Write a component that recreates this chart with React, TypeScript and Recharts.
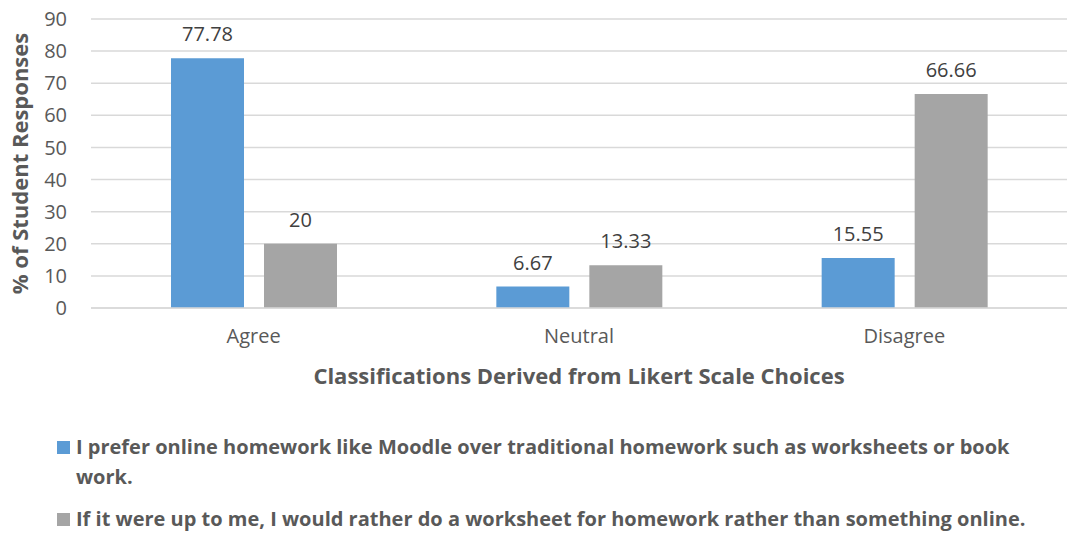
import { BarChart, Bar, XAxis, YAxis, CartesianGrid, Legend, LabelList } from "recharts";

const categories = ["Agree", "Neutral", "Disagree"];
const preferOnline = [77.78, 6.67, 15.55];
const preferWorksheet = [20, 13.33, 66.66];
const yTicks = [0, 10, 20, 30, 40, 50, 60, 70, 80, 90];
const seriesNames = [
  "I prefer online homework like Moodle over traditional homework such as worksheets or book work.",
  "If it were up to me, I would rather do a worksheet for homework rather than something online.",
];

const data = categories.map((c, i) => ({
  name: c,
  online: preferOnline[i],
  worksheet: preferWorksheet[i],
}));

const FONT = "'Open Sans', sans-serif";
const TEXT = "#595959";

function LegendBox({ payload }: any) {
  return (
    <div
      style={{
        height: 135,
        paddingTop: 32,
        boxSizing: "border-box",
        display: "flex",
        flexDirection: "column",
        gap: 12,
        fontFamily: FONT,
        fontWeight: 700,
        fontSize: 20,
        color: TEXT,
        width: 1005,
        textAlign: "left",
      }}
    >
      {(payload || []).map((p: any) => (
        <div key={p.value} style={{ display: "flex", alignItems: "flex-start", lineHeight: "30px" }}>
          <span style={{ display: "inline-block", width: 13, height: 13, background: p.color, marginTop: 9, marginRight: 6, flex: "none" }} />
          <span style={{ maxWidth: 962 }}>{p.value}</span>
        </div>
      ))}
    </div>
  );
}

export default function App() {
  return (
    <div style={{ position: "absolute", left: 0, top: 0, width: 1067, height: 535, background: "#fff" }}>
      <BarChart
        width={1067}
        height={535}
        data={data}
        margin={{ top: 19, right: 0, left: 0, bottom: 0 }}
        barCategoryGap={79}
        barGap={20}
      >
        <CartesianGrid vertical={false} stroke="#D9D9D9" strokeWidth={1.5} />
        <XAxis
          dataKey="name"
          axisLine={{ stroke: "#D9D9D9", strokeWidth: 1.5 }}
          tickLine={false}
          tick={{ fontFamily: FONT, fontSize: 20, fill: TEXT }}
          tickMargin={15}
          height={92}
          label={{
            value: "Classifications Derived from Likert Scale Choices",
            position: "insideBottom",
            offset: 16,
            style: { fontFamily: FONT, fontSize: 22, fontWeight: 700, fill: TEXT },
          }}
        />
        <YAxis
          width={91}
          domain={[0, 90]}
          ticks={yTicks}
          interval={0}
          axisLine={false}
          tickLine={false}
          tickMargin={18}
          tick={{ fontFamily: FONT, fontSize: 20, fill: TEXT }}
          label={{
            value: "% of Student Responses",
            angle: -90,
            position: "insideLeft",
            offset: 20,
            style: { textAnchor: "middle", fontFamily: FONT, fontSize: 22, fontWeight: 700, fill: TEXT },
          }}
        />
        <Legend
          verticalAlign="bottom"
          align="left"
          content={<LegendBox />}
          wrapperStyle={{ left: 57, bottom: 0 }}
        />
        <Bar dataKey="online" name={seriesNames[0]} fill="#5B9BD5" barSize={73} isAnimationActive={false}>
          <LabelList dataKey="online" position="top" offset={17} style={{ fontFamily: FONT, fontSize: 20, fill: "#404040" }} />
        </Bar>
        <Bar dataKey="worksheet" name={seriesNames[1]} fill="#A5A5A5" barSize={73} isAnimationActive={false}>
          <LabelList dataKey="worksheet" position="top" offset={17} style={{ fontFamily: FONT, fontSize: 20, fill: "#404040" }} />
        </Bar>
      </BarChart>
    </div>
  );
}
